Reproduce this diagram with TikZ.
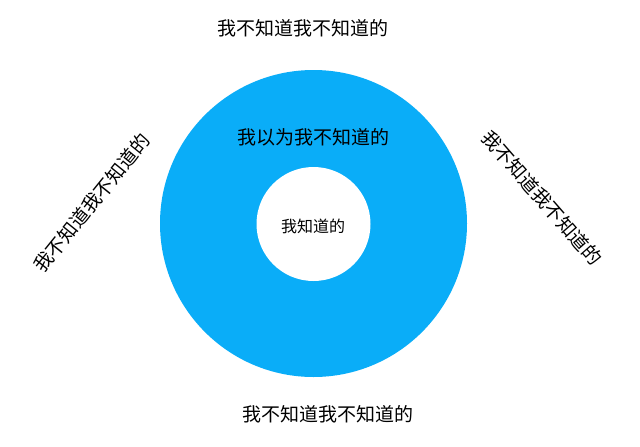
\documentclass[tikz,border=0pt]{standalone}
\usepackage{fontspec}
\newfontfamily\cjk{Noto Sans CJK SC}
\definecolor{donutblue}{RGB}{10,173,248}
\begin{document}
\begin{tikzpicture}[x=1pt,y=-1pt,
  lbl/.style={font=\cjk\fontsize{19}{22}\selectfont, text=black, inner sep=0pt},
  small/.style={font=\cjk\fontsize{16}{19}\selectfont, text=black, inner sep=0pt}]
\useasboundingbox[fill=white] (0,0) rectangle (640,447);
\fill[donutblue] (313.5,223.5) circle (153.5);
\fill[white] (313.5,224) circle (57);
\node[lbl] (top) at (303,28) {我不知道我不知道的};
\node[lbl] (bottom) at (328,414) {我不知道我不知道的};
\node[lbl] (ring) at (313,137) {我以为我不知道的};
\node[small] (core) at (313,226) {我知道的};
\node[lbl, rotate=51] (left) at (92,203) {我不知道我不知道的};
\node[lbl, rotate=-49] (right) at (542,198) {我不知道我不知道的};
\end{tikzpicture}
\end{document}
